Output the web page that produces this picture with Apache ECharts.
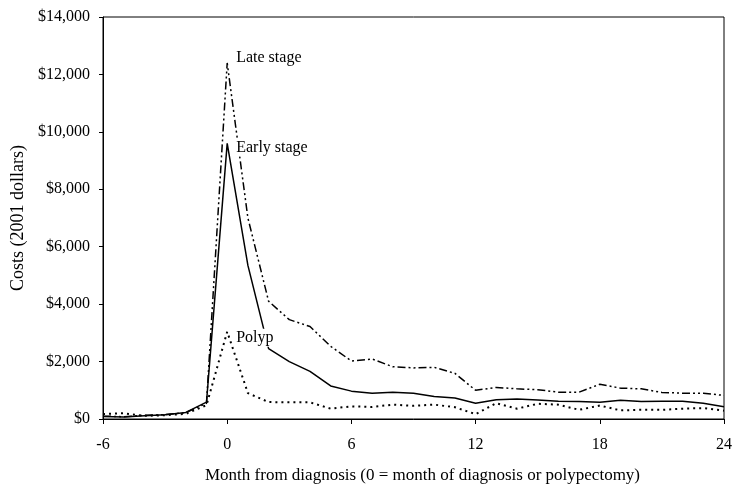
<!DOCTYPE html>
<html>
<head>
<meta charset="utf-8">
<script src="https://cdn.jsdelivr.net/npm/echarts@6/dist/echarts.min.js"></script>
<style>
  html, body { margin: 0; padding: 0; background: #fff; }
  #chart { width: 735px; height: 489px; }
</style>
</head>
<body>
<div id="chart"></div>
<script>
const months = [-6, -5, -4, -3, -2, -1, 0, 1, 2, 3, 4, 5, 6, 7, 8, 9, 10, 11, 12,
  13, 14, 15, 16, 17, 18, 19, 20, 21, 22, 23, 24]

const earlyStage = [90, 70, 115, 150, 230, 590, 9600, 5350, 2450, 2000, 1660, 1150, 970, 900, 935, 900,
  780, 730, 550, 670, 700, 660, 620, 610, 580, 650, 610, 620, 620, 550, 430]

const lateStage = [100, 80, 130, 150, 220, 550, 12400, 7000, 4100, 3460, 3220, 2530, 2020, 2090, 1820, 1780,
  1800, 1590, 1000, 1100, 1050, 1020, 935, 935, 1210, 1075, 1050, 925, 900, 900, 820]

const polyp = [170, 200, 110, 130, 180, 480, 3040, 900, 590, 580, 580, 360, 440, 420, 500, 460,
  500, 410, 170, 550, 360, 530, 500, 320, 470, 300, 320, 320, 360, 380, 290]

const xTicks = [-6, 0, 6, 12, 18, 24]

const font = 'Liberation Serif'

function pairs(vals) {
  return months.map((m, i) => [m, vals[i]])
}

// label sitting just right of the peak, white box hides the lines under it
function peakLabel(text, vals, offset) {
  const i = months.indexOf(0)
  return {
    symbol: 'circle',
    symbolSize: 0,
    z: 10,
    data: [{ coord: [0, vals[i]] }],
    label: {
      show: true,
      position: 'right',
      formatter: text,
      offset: offset,
      color: '#000',
      fontFamily: font,
      fontSize: 16,
      backgroundColor: '#fff',
      padding: [1, 2]
    }
  }
}

const option = {
  animation: false,
  backgroundColor: '#fff',
  grid: {
    left: 103, right: 8, top: 17, bottom: 68,
    show: true, borderColor: '#000', borderWidth: 1
  },
  xAxis: {
    type: 'value',
    min: -6, max: 24, interval: 6,
    name: 'Month from diagnosis (0 = month of diagnosis or polypectomy)',
    nameLocation: 'middle',
    nameGap: 48,
    nameTextStyle: { fontFamily: font, fontSize: 17, color: '#000', padding: [0, 0, 0, 18] },
    axisLine: { onZero: false, lineStyle: { color: '#000', width: 1 } },
    axisTick: { inside: false, length: 5, lineStyle: { color: '#000' } },
    axisLabel: {
      color: '#000', fontFamily: font, fontSize: 16, margin: 18,
      customValues: xTicks
    },
    splitLine: { show: false }
  },
  yAxis: {
    type: 'value',
    min: 0, max: 14000, interval: 2000,
    name: 'Costs (2001 dollars)',
    nameLocation: 'middle',
    nameGap: 75,
    nameTextStyle: { fontFamily: font, fontSize: 18, color: '#000' },
    axisLine: { show: true, onZero: false, lineStyle: { color: '#000', width: 1 } },
    axisTick: { show: true, inside: false, length: 4, lineStyle: { color: '#000' } },
    axisLabel: {
      color: '#000', fontFamily: font, fontSize: 16, margin: 13,
      formatter: v => '$' + String(v).replace(/\B(?=(\d{3})+(?!\d))/g, ',')
    },
    splitLine: { show: false }
  },
  series: [
    {
      name: 'Polyp',
      type: 'line',
      data: pairs(polyp),
      showSymbol: false,
      lineStyle: { color: '#000', width: 2, type: [2, 4] },
      markPoint: peakLabel('Polyp', polyp, [2, 6])
    },
    {
      name: 'Early stage',
      type: 'line',
      data: pairs(earlyStage),
      showSymbol: false,
      lineStyle: { color: '#000', width: 1.5, type: 'solid' },
      markPoint: peakLabel('Early stage', earlyStage, [2, 4])
    },
    {
      name: 'Late stage',
      type: 'line',
      data: pairs(lateStage),
      showSymbol: false,
      lineStyle: { color: '#000', width: 1.5, type: [8, 3, 2, 3, 2, 3] },
      markPoint: peakLabel('Late stage', lateStage, [2, -5])
    }
  ]
}

const chart = echarts.init(document.getElementById('chart'))
chart.setOption(option)
</script>
</body>
</html>
